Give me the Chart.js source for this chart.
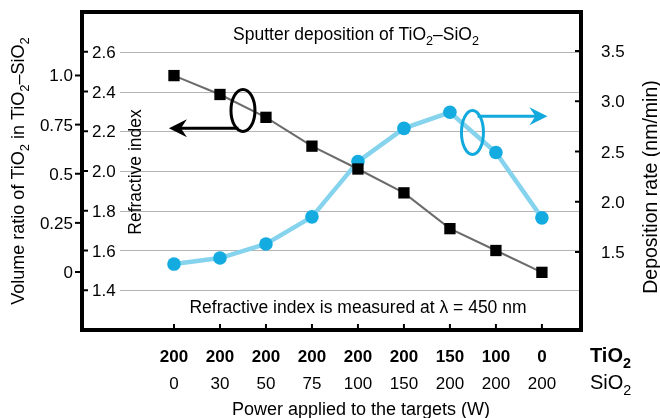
<!DOCTYPE html>
<html>
<head>
<meta charset="utf-8">
<script src="https://cdn.jsdelivr.net/npm/chart.js@4/dist/chart.umd.min.js"></script>
<style>
body{margin:0;background:#fff}
canvas{display:block}
</style>
</head>
<body>
<canvas id="grafica" width="660" height="418"></canvas>
<script>

/* DATOS */

const potTiO2=["200","200","200","200","200","200","150","100","0"]
const potSiO2=["0","30","50","75","100","150","200","200","200"]
const indice=[2.48,2.385,2.27,2.125,2.01,1.89,1.71,1.60,1.49]
const tasa=[1.38,1.44,1.58,1.85,2.40,2.73,2.89,2.49,1.84]

const ticksIndice=[1.4,1.6,1.8,2.0,2.2,2.4,2.6]
const ticksTasa=[1.5,2.0,2.5,3.0,3.5]
const ticksVolumen=[0,0.25,0.5,0.75,1.0]
const etiqVolumen=["0","0.25","0.5","0.75","1.0"]

const FUENTE='"Liberation Sans", Arial, sans-serif'

/* texto con subindices: partes = [[texto, esSub], ...] */
function texto(ctx,partes,x,y,tam,align,negrita){
const peso=negrita?'bold ':''
const fuente=p=>peso+(p[1]?tam*0.72:tam)+'px '+FUENTE
let ancho=0
partes.forEach(p=>{ctx.font=fuente(p);ancho+=ctx.measureText(p[0]).width})
let x0=align==='center'?x-ancho/2:align==='right'?x-ancho:x
ctx.textAlign='left'
ctx.textBaseline='alphabetic'
partes.forEach(p=>{
ctx.font=fuente(p)
ctx.fillText(p[0],x0,y+(p[1]?tam*0.3:0))
x0+=ctx.measureText(p[0]).width
})
}

function textoVertical(ctx,partes,x,y,tam){
ctx.save()
ctx.translate(x,y)
ctx.rotate(-Math.PI/2)
texto(ctx,partes,0,0,tam,'center')
ctx.restore()
}

function elipse(ctx,cx,cy,rx,ry,color){
ctx.beginPath()
ctx.ellipse(cx,cy,rx,ry,0,0,Math.PI*2)
ctx.strokeStyle=color
ctx.lineWidth=3
ctx.stroke()
}

function flecha(ctx,x1,y,x2,color){
const dir=x2>x1?1:-1
ctx.strokeStyle=color
ctx.fillStyle=color
ctx.lineWidth=3
ctx.beginPath()
ctx.moveTo(x1,y)
ctx.lineTo(x2-dir*10,y)
ctx.stroke()
ctx.beginPath()
ctx.moveTo(x2,y)
ctx.lineTo(x2-dir*18,y-9)
ctx.lineTo(x2-dir*12,y)
ctx.lineTo(x2-dir*18,y+9)
ctx.closePath()
ctx.fill()
}

/* PLUGIN: ejes, marco y anotaciones */

const marco={
id:'marco',
beforeDatasetsDraw(chart){
const ctx=chart.ctx
const a=chart.chartArea
const sRI=chart.scales.yIndice
ctx.save()
ctx.strokeStyle='#b4b4b4'
ctx.lineWidth=1
ticksIndice.forEach(t=>{
const y=Math.round(sRI.getPixelForValue(t))+0.5
ctx.beginPath()
ctx.moveTo(120,y)
ctx.lineTo(a.right,y)
ctx.stroke()
})
ctx.restore()
},
afterDatasetsDraw(chart){
const ctx=chart.ctx
const a=chart.chartArea
const sx=chart.scales.x
const sRI=chart.scales.yIndice
const sT=chart.scales.yTasa
const sV=chart.scales.yVolumen
ctx.save()
ctx.fillStyle='#000'
ctx.strokeStyle='#000'

/* eje volumen (fuera, izquierda) */
ctx.lineWidth=2
ticksVolumen.forEach((t,i)=>{
const y=sV.getPixelForValue(t)
ctx.beginPath();ctx.moveTo(a.left-7,y);ctx.lineTo(a.left,y);ctx.stroke()
texto(ctx,[[etiqVolumen[i],0]],a.left-9,y+6,17,'right')
})

/* eje indice (dentro, izquierda) */
ticksIndice.forEach(t=>{
const y=sRI.getPixelForValue(t)
ctx.beginPath();ctx.moveTo(a.left,y);ctx.lineTo(a.left+6,y);ctx.stroke()
texto(ctx,[[t.toFixed(1),0]],a.left+10,y+6,17,'left')
})

/* eje tasa (derecha) */
ticksTasa.forEach(t=>{
const y=sT.getPixelForValue(t)
ctx.beginPath();ctx.moveTo(a.right-6,y);ctx.lineTo(a.right,y);ctx.stroke()
texto(ctx,[[t.toFixed(1),0]],a.right+20,y+6,17,'left')
})

/* eje x */
potTiO2.forEach((p,i)=>{
const x=sx.getPixelForValue(i)
ctx.beginPath();ctx.moveTo(x,a.bottom);ctx.lineTo(x,a.bottom-6);ctx.stroke()
texto(ctx,[[p,0]],x,362,17,'center',true)
texto(ctx,[[potSiO2[i],0]],x,389,17,'center')
})
texto(ctx,[['TiO',0],['2',1]],590,362,20,'left',true)
texto(ctx,[['SiO',0],['2',1]],590,389,20,'left')
texto(ctx,[['Power applied to the targets (W)',0]],361,415,18,'center')

/* titulos verticales */
textoVertical(ctx,[['Volume ratio of TiO',0],['2',1],[' in TiO',0],['2',1],['\u2013SiO',0],['2',1]],24,171,18)
textoVertical(ctx,[['Refractive index',0]],141,172,17.5)
textoVertical(ctx,[['Deposition rate (nm/min)',0]],657,187,19.5)

/* textos internos */
texto(ctx,[['Sputter deposition of TiO',0],['2',1],['\u2013SiO',0],['2',1]],356,40,17.5,'center')
texto(ctx,[['Refractive index is measured at \u03bb = 450 nm',0]],358,313,17.5,'center')

/* marco */
ctx.lineWidth=4
ctx.strokeRect(a.left,a.top,a.right-a.left,a.bottom-a.top)

/* anotaciones */
elipse(ctx,sx.getPixelForValue(1.5),sRI.getPixelForValue(2.305),12,21,'#000')
flecha(ctx,sx.getPixelForValue(1.4),sRI.getPixelForValue(2.215),sx.getPixelForValue(-0.11),'#000')
elipse(ctx,sx.getPixelForValue(6.49),sT.getPixelForValue(2.69),11,22,'#12a9dd')
flecha(ctx,sx.getPixelForValue(6.6),sT.getPixelForValue(2.85),sx.getPixelForValue(8.12),'#12a9dd')

ctx.restore()
}
}

/* GRAFICA */

new Chart(document.getElementById("grafica"),{

type:'line',

data:{
datasets:[{
label:"Refractive index",
data:indice.map((v,i)=>({x:i,y:v})),
yAxisID:'yIndice',
borderColor:"#6b6b6b",
borderWidth:2,
pointStyle:'rect',
pointRadius:8,
pointBackgroundColor:"#000",
pointBorderColor:"#000",
pointBorderWidth:0,
order:1
},{
label:"Deposition rate",
data:tasa.map((v,i)=>({x:i,y:v})),
yAxisID:'yTasa',
borderColor:"#86d3ee",
borderWidth:4.5,
pointStyle:'circle',
pointRadius:6.8,
pointBackgroundColor:"#14abe0",
pointBorderColor:"#14abe0",
pointBorderWidth:0,
order:2
}]
},

options:{
responsive:false,
animation:false,
layout:{padding:{left:82,right:79,top:12,bottom:88}},
plugins:{legend:{display:false},tooltip:{enabled:false}},
scales:{
x:{type:'linear',min:-2,max:8.85,display:false},
yIndice:{type:'linear',min:1.2,max:2.8,display:false},
yTasa:{type:'linear',min:0.724,max:3.888,display:false},
yVolumen:{type:'linear',min:-0.295,max:1.323,display:false}
}
},

plugins:[marco]

})

</script>
</body>
</html>
